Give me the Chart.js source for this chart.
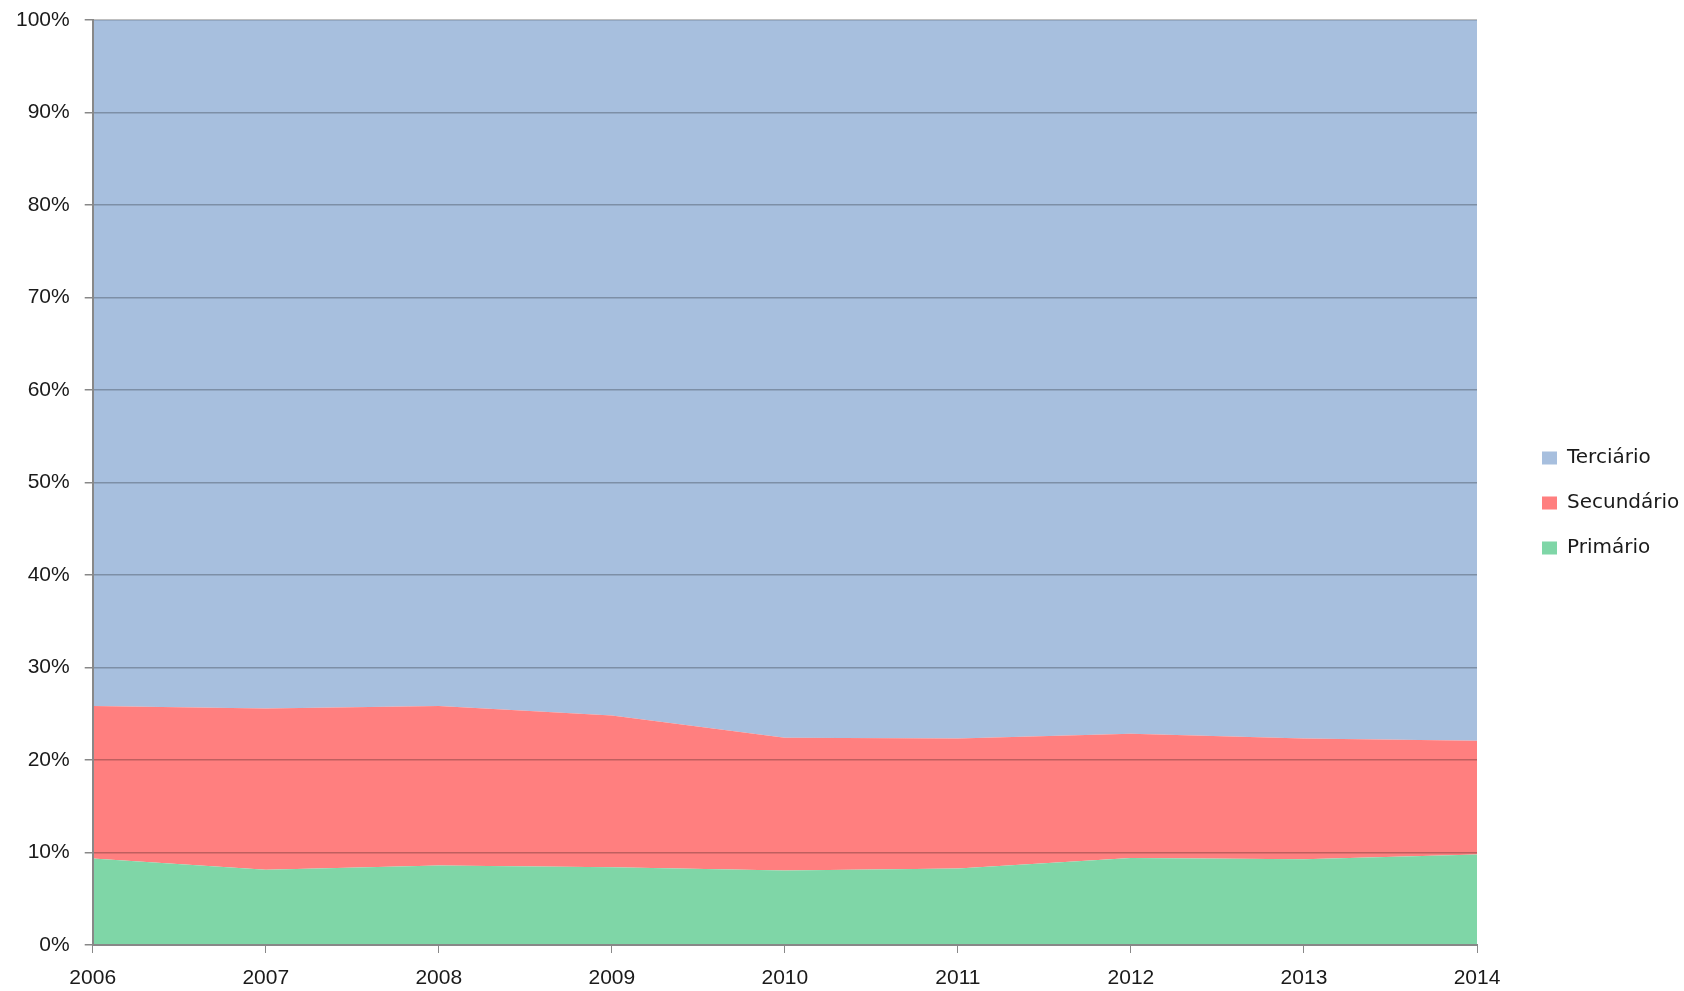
<!DOCTYPE html>
<html>
<head>
<meta charset="utf-8">
<script src="https://cdn.jsdelivr.net/npm/chart.js@4"></script>
<style>
  body { margin: 0; background: #fff; }
  #wrap { width: 1684px; height: 991px; position: relative; }
</style>
</head>
<body>
<div id="wrap"><canvas id="areaChart"></canvas></div>
<script>
const years = ['2006', '2007', '2008', '2009', '2010', '2011', '2012', '2013', '2014'];
const primario = [9.35, 8.13, 8.6, 8.4, 8.06, 8.28, 9.4, 9.28, 9.78];
const secundario = [16.5, 17.45, 17.25, 16.4, 14.35, 14.05, 13.45, 13.05, 12.3];
const terciario = [74.15, 74.42, 74.15, 75.2, 77.59, 77.67, 77.15, 77.67, 77.92];
const yTicks = [0, 10, 20, 30, 40, 50, 60, 70, 80, 90, 100];

function areaSet(label, data, color, fill) {
    return {
        label: label,
        data: data,
        backgroundColor: color,
        borderColor: color,
        borderWidth: 0,
        pointRadius: 0,
        tension: 0,
        fill: fill
    };
}

// legend sits right next to the plot by default; push it over a bit
const legendShift = {
    id: 'legendShift',
    afterLayout(chart) {
        const lg = chart.legend;
        lg.left += 40;
        lg.right += 40;
        lg.top -= 2;
        lg.bottom -= 2;
    }
};

const ctx = document.getElementById('areaChart').getContext('2d');
new Chart(ctx, {
    type: 'line',
    data: {
        labels: years,
        datasets: [
            areaSet('Primário', primario, '#7FD6A7', 'origin'),
            areaSet('Secundário', secundario, '#FF7F7F', '-1'),
            areaSet('Terciário', terciario, '#A7BFDE', '-1')
        ]
    },
    plugins: [legendShift],
    options: {
        responsive: true,
        maintainAspectRatio: false,
        animation: false,
        events: [],
        layout: { padding: { top: 20, left: 1, right: 0, bottom: 1 } },
        plugins: {
            tooltip: { enabled: false },
            legend: {
                position: 'right',
                reverse: true,
                labels: {
                    boxWidth: 15,
                    boxHeight: 13,
                    padding: 25,
                    color: '#1a1a1a',
                    font: { family: 'DejaVu Sans', size: 20 }
                }
            }
        },
        scales: {
            x: {
                z: 1,
                offset: false,
                grid: { drawOnChartArea: false, drawTicks: true, tickLength: 8, tickColor: '#888', z: 1 },
                border: { color: '#888', width: 2, z: 2 },
                ticks: {
                    color: '#1a1a1a',
                    padding: 13,
                    maxRotation: 0,
                    font: { family: 'Liberation Sans', size: 21 }
                },
                afterFit: scale => {
                    scale.paddingRight = 207;
                    scale.height = 45;
                }
            },
            y: {
                stacked: true,
                z: 1,
                min: 0,
                max: 100,
                afterBuildTicks: scale => { scale.ticks = yTicks.map(v => ({ value: v })); },
                afterFit: scale => {
                    scale.paddingTop = 0;
                    scale.paddingBottom = 0;
                },
                grid: { color: 'rgba(0,0,0,0.25)', lineWidth: 1.5, tickLength: 8, tickColor: '#888', z: 1 },
                border: { color: '#888', width: 2, z: 2 },
                ticks: {
                    color: '#1a1a1a',
                    padding: 15,
                    font: { family: 'Liberation Sans', size: 21 },
                    callback: v => v + '%'
                }
            }
        }
    }
});
</script>
</body>
</html>
